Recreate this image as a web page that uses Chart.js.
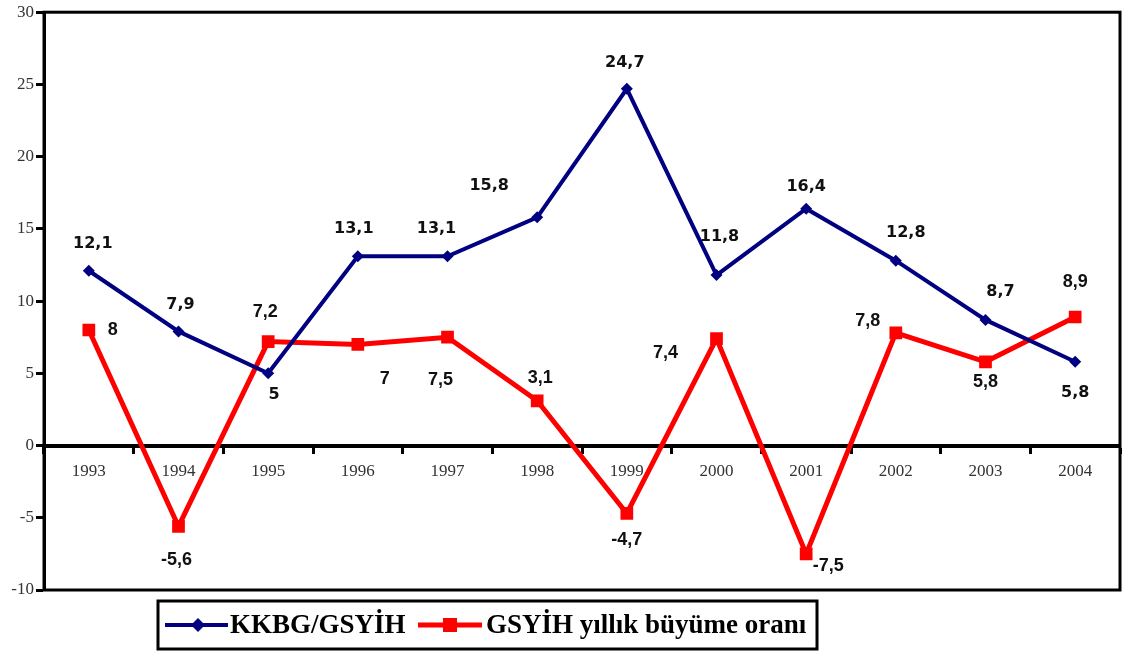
<!DOCTYPE html>
<html>
<head>
<meta charset="utf-8">
<script src="https://cdn.jsdelivr.net/npm/chart.js@4/dist/chart.umd.min.js"></script>
<style>
  html, body { margin: 0; padding: 0; background: #fff; }
  #wrap { width: 1125px; height: 652px; }
</style>
</head>
<body>
<div id="wrap"><canvas id="chart" width="1125" height="652"></canvas></div>
<script>
// Veriler
const years = ['1993', '1994', '1995', '1996', '1997', '1998', '1999', '2000', '2001', '2002', '2003', '2004'];
const kkbgGsyih = [12.1, 7.9, 5, 13.1, 13.1, 15.8, 24.7, 11.8, 16.4, 12.8, 8.7, 5.8];
const buyumeOrani = [8, -5.6, 7.2, 7, 7.5, 3.1, -4.7, 7.4, -7.5, 7.8, 5.8, 8.9];
const yTicks = [-10, -5, 0, 5, 10, 15, 20, 25, 30];
const seriesNames = ['KKBG/GSYİH', 'GSYİH yıllık büyüme oranı'];

// Etiket kaydırmaları (piksel)
const blueLabelOffsets = [[4, -27], [2, -27], [6, 22], [-4, -27], [-11, -27], [-48, -31], [-2, -26], [3, -38], [0, -22], [10, -28], [15, -28], [0, 31]];
const redLabelOffsets = [[24, 0], [-2, 34], [-3, -30], [27, 35], [-7, 43], [3, -23], [0, 27], [-51, 14], [22, 12], [-28, -12], [0, 20], [0, -35]];

function fmt(v) {
  return String(v).replace('.', ',');
}

const labelPlugin = {
  id: 'pointLabels',
  afterDatasetsDraw(chart) {
    const ctx = chart.ctx;
    const fonts = ['bold 16px "DejaVu Sans"', 'bold 18px "Liberation Sans"'];
    const offsets = [blueLabelOffsets, redLabelOffsets];
    ctx.save();
    ctx.fillStyle = '#111';
    ctx.textAlign = 'center';
    ctx.textBaseline = 'middle';
    chart.data.datasets.forEach((ds, i) => {
      const meta = chart.getDatasetMeta(i);
      ctx.font = fonts[i];
      meta.data.forEach((pt, j) => {
        const [dx, dy] = offsets[i][j];
        ctx.fillText(fmt(ds.data[j]), pt.x + dx, pt.y + dy);
      });
    });
    ctx.restore();
  }
};

const framePlugin = {
  id: 'frame',
  afterDraw(chart) {
    const ctx = chart.ctx;
    const a = chart.chartArea;
    ctx.save();
    ctx.strokeStyle = '#000';
    ctx.lineWidth = 3;
    ctx.strokeRect(a.left, a.top, a.right - a.left, a.bottom - a.top);

    // Açıklama kutusu
    const bx = 158, by = 601, bw = 659, bh = 48;
    ctx.lineWidth = 3;
    ctx.strokeRect(bx, by, bw, bh);
    const cy = by + bh / 2;
    ctx.font = 'bold 27px "Liberation Serif"';
    ctx.textBaseline = 'middle';
    ctx.textAlign = 'left';
    // mavi seri
    ctx.strokeStyle = '#000080';
    ctx.lineWidth = 4;
    ctx.beginPath(); ctx.moveTo(165, cy); ctx.lineTo(228, cy); ctx.stroke();
    ctx.fillStyle = '#000080';
    ctx.beginPath();
    ctx.moveTo(198, cy - 7); ctx.lineTo(205, cy); ctx.lineTo(198, cy + 7); ctx.lineTo(191, cy);
    ctx.closePath(); ctx.fill();
    ctx.fillStyle = '#000';
    ctx.fillText(seriesNames[0], 230, cy + 1);
    // kırmızı seri
    ctx.strokeStyle = '#ff0000';
    ctx.lineWidth = 5;
    ctx.beginPath(); ctx.moveTo(418, cy); ctx.lineTo(482, cy); ctx.stroke();
    ctx.fillStyle = '#ff0000';
    ctx.fillRect(443, cy - 7, 14, 14);
    ctx.fillStyle = '#000';
    ctx.fillText(seriesNames[1], 486, cy + 1);
    ctx.restore();
  }
};

const ctx = document.getElementById('chart').getContext('2d');
const chart = new Chart(ctx, {
  type: 'line',
  data: {
    labels: years,
    datasets: [
      {
        label: seriesNames[0],
        data: kkbgGsyih,
        borderColor: '#000080',
        backgroundColor: '#000080',
        borderWidth: 4,
        pointStyle: 'rectRot',
        pointRadius: 6,
        pointBorderWidth: 0,
        tension: 0
      },
      {
        label: seriesNames[1],
        data: buyumeOrani,
        borderColor: '#ff0000',
        backgroundColor: '#ff0000',
        borderWidth: 5,
        pointStyle: 'rect',
        pointRadius: 9,
        pointBorderWidth: 0,
        tension: 0
      }
    ]
  },
  options: {
    responsive: false,
    animation: false,
    layout: { autoPadding: false, padding: { top: 12, right: 5, bottom: 62, left: 0 } },
    plugins: {
      legend: { display: false },
      tooltip: { enabled: false }
    },
    scales: {
      x: {
        position: { y: 0 },
        offset: true,
        grid: {
          drawOnChartArea: false,
          drawTicks: true,
          tickLength: 6,
          tickWidth: 3,
          tickColor: '#000',
          offset: true
        },
        border: { display: true, color: '#000', width: 4 },
        ticks: {
          color: '#333',
          font: { family: '"Liberation Serif"', size: 17 },
          padding: 10,
          maxRotation: 0
        }
      },
      y: {
        min: -10,
        max: 30,
        afterFit(scale) { scale.width = 44; },
        afterBuildTicks(scale) { scale.ticks = yTicks.map(v => ({ value: v })); },
        grid: {
          drawOnChartArea: false,
          drawTicks: true,
          tickLength: 8,
          tickWidth: 3,
          tickColor: '#000'
        },
        border: { display: true, color: '#000', width: 3 },
        ticks: {
          color: '#333',
          font: { family: '"Liberation Serif"', size: 17 },
          padding: 2
        }
      }
    }
  },
  plugins: [labelPlugin, framePlugin]
});
</script>
</body>
</html>
